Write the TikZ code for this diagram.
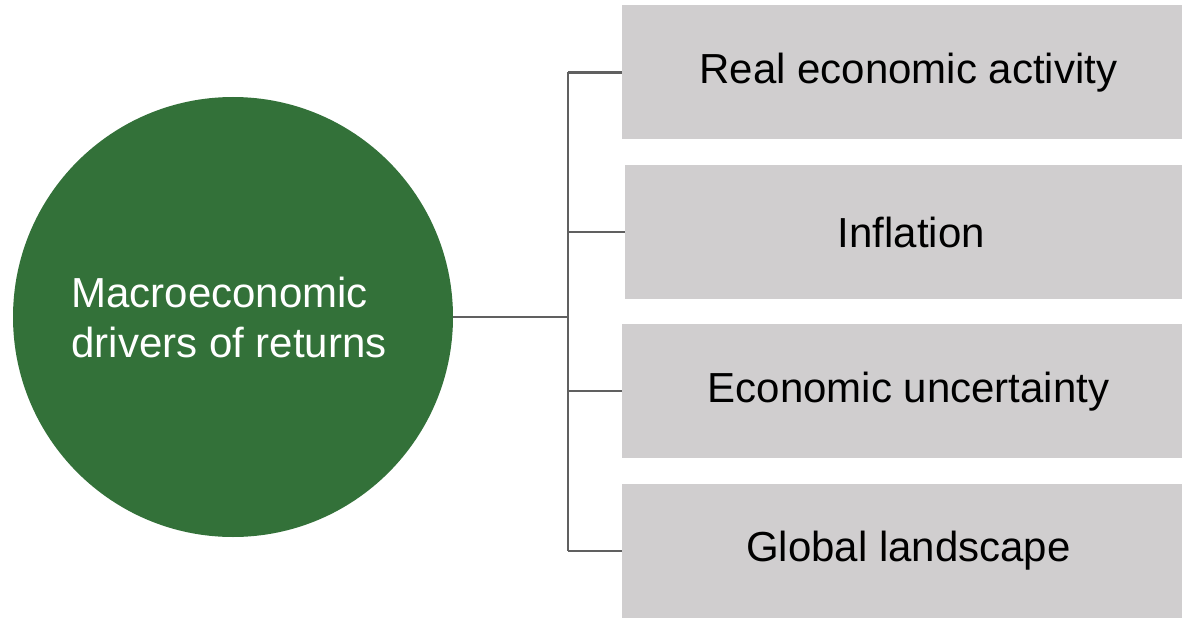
\documentclass[tikz,border=0pt]{standalone}
\usepackage{fontspec}
\setmainfont{Liberation Sans}
\usetikzlibrary{positioning}
\definecolor{hubgreen}{RGB}{51, 113, 57}
\definecolor{boxgray}{RGB}{208, 206, 207}
\definecolor{linegray}{RGB}{96, 96, 96}

\begin{document}
\begin{tikzpicture}[
    x=0.5pt, y=0.5pt,
    node distance=12.5pt,
    hub/.style={circle, fill=hubgreen, minimum size=220pt, inner sep=0pt, text=white, align=left, font=\fontsize{21}{25}\selectfont},
    driver/.style={rectangle, fill=boxgray, minimum width=280pt, minimum height=67pt, inner sep=0pt, text=black, font=\fontsize{21}{25}\selectfont, execute at begin node=\hspace*{6pt}},
    link/.style={draw=linegray, line width=1.2pt}
]

\useasboundingbox (0,0) rectangle (1182,617);

\node (hub) [hub] at (233,300) {Macroeconomic\\drivers of returns\hspace*{4pt}};
\node (real) [driver, anchor=north west] at (622,612) {Real economic activity};
\node (inflation) [driver, below=of real, xshift=1.5pt] {Inflation};
\node (uncertainty) [driver, below=of real, yshift=-79.5pt] {Economic uncertainty};
\node (global) [driver, below=of uncertainty] {Global landscape};

\coordinate (trunk) at (568,300);

\draw [link] (hub.east) -- (trunk);
\draw [link] (trunk |- real.west) -- (trunk |- global.west);
\draw [link] (trunk |- real.west) -- (real.west);
\draw [link] (trunk |- inflation.west) -- (inflation.west);
\draw [link] (trunk |- uncertainty.west) -- (uncertainty.west);
\draw [link] (trunk |- global.west) -- (global.west);

\end{tikzpicture}
\end{document}
